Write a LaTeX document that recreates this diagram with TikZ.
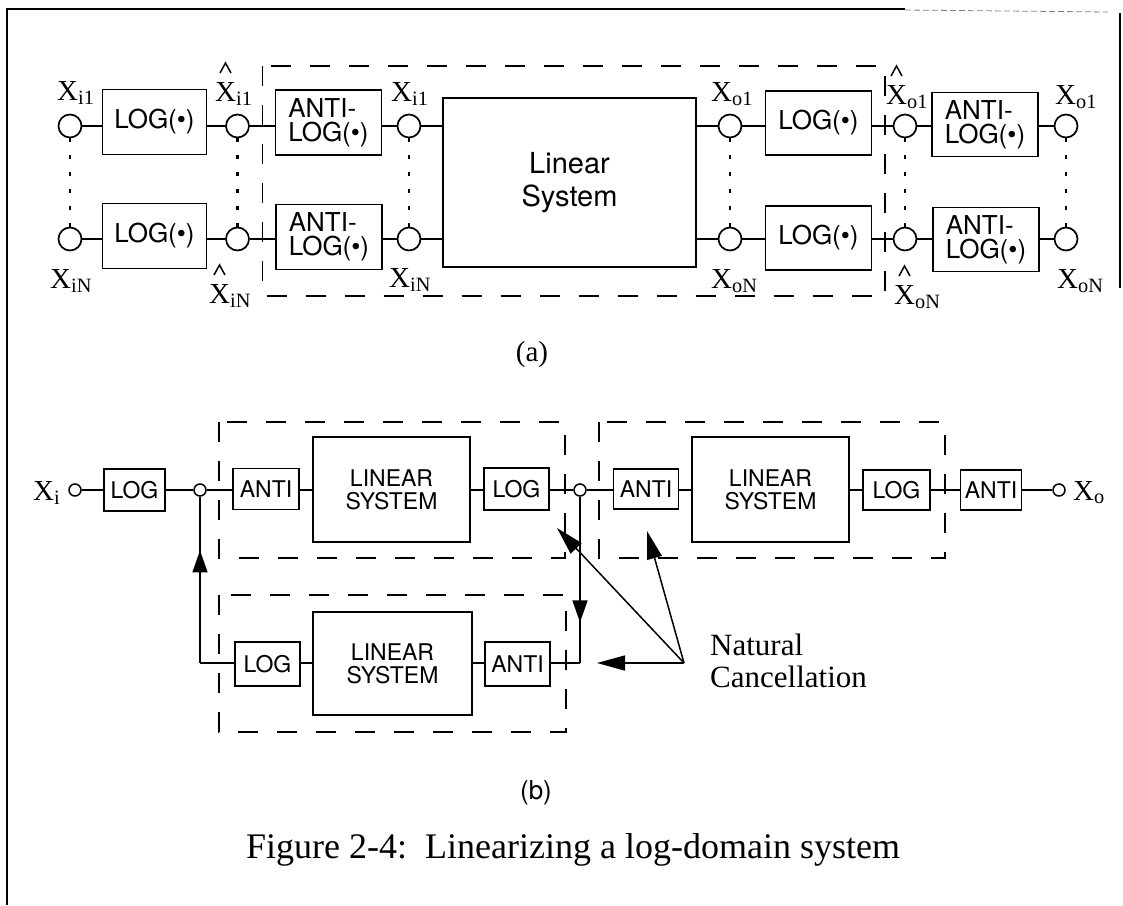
\documentclass[tikz,border=0pt]{standalone}
\usepackage{fontspec}
\setmainfont{Liberation Serif}
\newfontfamily\hv{TeX Gyre Heros}
\usetikzlibrary{arrows.meta,decorations.markings}

\begin{document}
\begin{tikzpicture}[x=1pt,y=-1pt,
  frm/.style={line width=1.3pt},
  wire/.style={line width=1.7pt},
  blka/.style={draw, line width=1.8pt, inner sep=0pt, align=left,
    font=\hv\fontsize{26}{24}\selectfont},
  blkb/.style={draw, line width=1.8pt, inner sep=0pt, align=center,
    font=\hv\fontsize{23}{23}\selectfont},
  circ/.style={circle, draw, line width=1.7pt, minimum size=23pt, inner sep=0pt},
  sc/.style={circle, draw, line width=1.5pt, minimum size=12pt, inner sep=0pt},
  dots/.style={line width=2.4pt, dash pattern=on 4pt off 13pt},
  dbox/.style={line width=1.7pt, dash pattern=on 20pt off 19pt},
  lbl/.style={inner sep=0pt, anchor=base west, font=\fontsize{29}{29}\selectfont},
  hatln/.style={line width=1.5pt, line join=miter},
  ptr/.style={line width=1.5pt, -{Triangle[length=28pt,width=15pt]}},
  upmark/.style={postaction={decorate}, decoration={markings,
    mark=at position #1 with {\arrow{Triangle[length=22pt,width=15pt]}}}}
]
\useasboundingbox (0,0) rectangle (1123,905);

% outer frame
\draw[frm] (7,905) -- (7,9) -- (905,9);
\draw[line width=0.8pt, gray, dash pattern=on 6pt off 3pt] (905,10) -- (1108,12);
\draw[frm] (1120,13) -- (1120,288);

% ---------------- (a) ----------------
\node[circ] (i1) at (70,126) {};
\node[circ] (iN) at (70,239) {};
\node[blka, minimum width=104pt, minimum height=65pt] (la1) at (154.5,122) {LOG(\textbullet)};
\node[blka, minimum width=104pt, minimum height=65pt] (laN) at (154.5,236) {LOG(\textbullet)};
\node[circ] (h1) at (237.5,126) {};
\node[circ] (hN) at (237.5,239) {};
\node[blka, minimum width=106pt, minimum height=65pt] (aa1) at (328.5,122.5) {ANTI-\\LOG(\textbullet)};
\node[blka, minimum width=106pt, minimum height=65pt] (aaN) at (329,237) {ANTI-\\LOG(\textbullet)};
\node[circ] (x1) at (409,126) {};
\node[circ] (xN) at (409,239) {};
\node[draw, line width=1.8pt, minimum width=253pt, minimum height=169pt, align=center,
  font=\hv\fontsize{29}{33}\selectfont] (lin) at (569.5,182.5) {Linear\\System};
\node[circ] (o1) at (730,126) {};
\node[circ] (oN) at (730,239) {};
\node[blka, minimum width=106pt, minimum height=64pt] (lo1) at (818.5,123) {LOG(\textbullet)};
\node[blka, minimum width=106pt, minimum height=64pt] (loN) at (818.5,238) {LOG(\textbullet)};
\node[circ] (g1) at (905,126) {};
\node[circ] (gN) at (905,239) {};
\node[blka, minimum width=106pt, minimum height=64pt] (ao1) at (985,124.5) {ANTI-\\LOG(\textbullet)};
\node[blka, minimum width=106pt, minimum height=64pt] (aoN) at (986,239.5) {ANTI-\\LOG(\textbullet)};
\node[circ] (y1) at (1066,126) {};
\node[circ] (yN) at (1066,239) {};

\foreach \r in {1,N}{
  \draw[wire] (i\r) -- (i\r -| la\r.west);
  \draw[wire] (la\r.east |- h\r) -- (h\r);
  \draw[wire] (h\r) -- (h\r -| aa\r.west);
  \draw[wire] (aa\r.east |- x\r) -- (x\r);
  \draw[wire] (x\r) -- (x\r -| lin.west);
  \draw[wire] (lin.east |- o\r) -- (o\r);
  \draw[wire] (o\r) -- (o\r -| lo\r.west);
  \draw[wire] (lo\r.east |- g\r) -- (g\r);
  \draw[wire] (g\r) -- (g\r -| ao\r.west);
  \draw[wire] (ao\r.east |- y\r) -- (y\r);
}
\foreach \c in {i,h,x,o,g,y}{
  \draw[dots] (\c1) -- (\c N);
}

\draw[dbox] (262.5,66) rectangle (885,296);

\node[lbl] (Li1) at (57,100) {X\textsubscript{i1}};
\node[lbl] (LiN) at (50,288) {X\textsubscript{iN}};
\node[lbl] (Lh1) at (215,101) {X\textsubscript{i1}};
\node[lbl] (LhN) at (209,303) {X\textsubscript{iN}};
\node[lbl] (Lx1) at (391,101) {X\textsubscript{i1}};
\node[lbl] (LxN) at (389,287) {X\textsubscript{iN}};
\node[lbl] (Lo1) at (711,101) {X\textsubscript{o1}};
\node[lbl] (LoN) at (711,288) {X\textsubscript{oN}};
\node[lbl] (Lg1) at (886,104) {X\textsubscript{o1}};
\node[lbl] (LgN) at (894,304) {X\textsubscript{oN}};
\node[lbl] (Ly1) at (1055,104) {X\textsubscript{o1}};
\node[lbl] (LyN) at (1057,288) {X\textsubscript{oN}};

% circumflex marks over the X of the intermediate signals
\foreach \L in {Lh1,LhN,Lg1,LgN}{
  \draw[hatln] ([shift={(5,-28)}]\L.base west) -- ++(5.5,-10) -- ++(5.5,10);
}

\node[font=\fontsize{29}{29}\selectfont] (capa) at (532,355) {(a)};

% ---------------- (b) ----------------
\node[lbl, font=\fontsize{29}{29}\selectfont] (Lxi) at (33,500) {X\textsubscript{i}};
\node[sc] (xi) at (75,490) {};
\node[blkb, minimum width=61pt, minimum height=42pt] (bg0) at (134.5,490) {LOG};
\node[sc] (n1) at (200,490) {};
\node[blkb, minimum width=66pt, minimum height=41pt] (ba1) at (266,489) {ANTI};
\node[blkb, minimum width=157pt, minimum height=105pt] (bl1) at (391.5,489.5) {LINEAR\\SYSTEM};
\node[blkb, minimum width=65pt, minimum height=42pt] (bg1) at (516.5,489) {LOG};
\node[sc] (n2) at (580,490) {};
\node[blkb, minimum width=65pt, minimum height=40pt] (ba2) at (646,489) {ANTI};
\node[blkb, minimum width=157pt, minimum height=105pt] (bl2) at (770.5,489.5) {LINEAR\\SYSTEM};
\node[blkb, minimum width=67pt, minimum height=40pt] (bg2) at (896.5,490) {LOG};
\node[blkb, minimum width=61pt, minimum height=40pt] (ba3) at (991,490) {ANTI};
\node[sc] (xo) at (1059,490) {};
\node[lbl, font=\fontsize{29}{29}\selectfont] (Lxo) at (1073,500) {X\textsubscript{o}};

\node[blkb, minimum width=65pt, minimum height=44pt] (bg3) at (267.5,664) {LOG};
\node[blkb, minimum width=159pt, minimum height=103pt] (bl3) at (392.5,663.5) {LINEAR\\SYSTEM};
\node[blkb, minimum width=65pt, minimum height=44pt] (ba4) at (517.5,664) {ANTI};
\coordinate (c1) at (200,663);
\coordinate (c2) at (580,663);

\draw[wire] (xi) -- (xi -| bg0.west);
\draw[wire] (bg0.east |- n1) -- (n1);
\draw[wire] (n1) -- (n1 -| ba1.west);
\draw[wire] (ba1.east |- n1) -- (n1 -| bl1.west);
\draw[wire] (bl1.east |- n1) -- (n1 -| bg1.west);
\draw[wire] (bg1.east |- n2) -- (n2);
\draw[wire] (n2) -- (n2 -| ba2.west);
\draw[wire] (ba2.east |- n2) -- (n2 -| bl2.west);
\draw[wire] (bl2.east |- n2) -- (n2 -| bg2.west);
\draw[wire] (bg2.east |- n2) -- (n2 -| ba3.west);
\draw[wire] (ba3.east |- xo) -- (xo);

\draw[wire, upmark=0.677] (c1) -- (n1);
\draw[wire] (c1) -- (c1 -| bg3.west);
\draw[wire] (bg3.east |- c1) -- (c1 -| bl3.west);
\draw[wire] (bl3.east |- c1) -- (c1 -| ba4.west);
\draw[wire] (ba4.east |- c2) -- (c2);
\draw[wire, upmark=0.755] (n2) -- (c2);

\draw[dbox] (219,422) rectangle (565,558);
\draw[dbox] (599,422) rectangle (945,558);
\draw[dbox] (219,595) rectangle (566,732);

\coordinate (nc) at (684,663);
\coordinate (t1) at (557,528);
\coordinate (t2) at (647,531);
\coordinate (t3) at (597,663);
\draw[ptr] (nc) -- (t1);
\draw[ptr] (nc) -- (t2);
\draw[ptr] (nc) -- (t3);
\node[anchor=west, align=left, inner sep=0pt, font=\fontsize{31}{32}\selectfont] (nat) at (710,661) {Natural\\Cancellation};

\node[font=\hv\fontsize{26}{26}\selectfont] (capb) at (536,793) {(b)};
\node[anchor=base, inner sep=0pt, font=\fontsize{36}{36}\selectfont] (cap) at (573,858) {Figure 2-4:\ \ Linearizing a log-domain system};
\end{tikzpicture}
\end{document}
